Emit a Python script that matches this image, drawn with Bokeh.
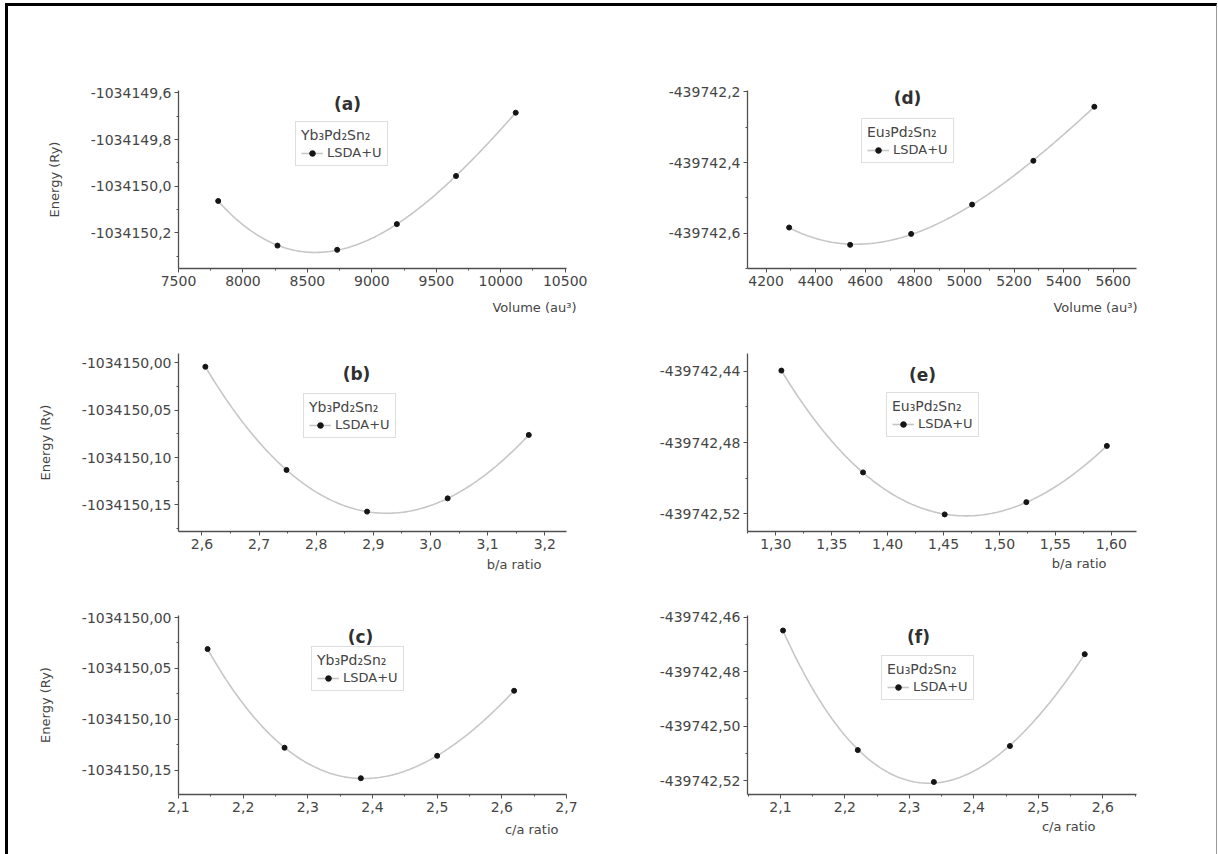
import numpy as np
from bokeh.plotting import figure
from bokeh.layouts import column, row
from bokeh.models import (FixedTicker, CustomJSTickFormatter, Label, Legend, LegendItem,
                          Range1d, InlineStyleSheet, Title)
from bokeh.embed import file_html
from bokeh.resources import INLINE

# ---------------- data ----------------
# (a) Yb3Pd2Sn2, energy vs volume
vol_yb = [7808, 8268, 8731, 9194, 9653, 10116]
e_vol_yb = [-1034150.063, -1034150.254, -1034150.272, -1034150.162, -1034149.956, -1034149.685]
# (b) Yb3Pd2Sn2, energy vs b/a
ba_yb = [2.606, 2.748, 2.889, 3.030, 3.172]
e_ba_yb = [-1034150.004, -1034150.113, -1034150.157, -1034150.143, -1034150.076]
# (c) Yb3Pd2Sn2, energy vs c/a
ca_yb = [2.145, 2.264, 2.382, 2.500, 2.619]
e_ca_yb = [-1034150.031, -1034150.128, -1034150.158, -1034150.136, -1034150.072]
# (d) Eu3Pd2Sn2, energy vs volume
vol_eu = [4293, 4539, 4785, 5031, 5278, 5524]
e_vol_eu = [-439742.584, -439742.633, -439742.602, -439742.519, -439742.395, -439742.242]
# (e) Eu3Pd2Sn2, energy vs b/a
ba_eu = [1.305, 1.378, 1.451, 1.524, 1.596]
e_ba_eu = [-439742.4396, -439742.4968, -439742.5204, -439742.5135, -439742.4819]
# (f) Eu3Pd2Sn2, energy vs c/a
ca_eu = [2.104, 2.220, 2.338, 2.456, 2.572]
e_ca_eu = [-439742.4649, -439742.5088, -439742.5205, -439742.5073, -439742.4736]

# tick values
xt_a = [7500, 8000, 8500, 9000, 9500, 10000, 10500]
yt_a = [-1034150.2, -1034150.0, -1034149.8, -1034149.6]
xt_b = [2.6, 2.7, 2.8, 2.9, 3.0, 3.1, 3.2]
yt_b = [-1034150.15, -1034150.10, -1034150.05, -1034150.00]
xt_c = [2.1, 2.2, 2.3, 2.4, 2.5, 2.6, 2.7]
yt_c = [-1034150.15, -1034150.10, -1034150.05, -1034150.00]
xt_d = [4200, 4400, 4600, 4800, 5000, 5200, 5400, 5600]
yt_d = [-439742.6, -439742.4, -439742.2]
xt_e = [1.30, 1.35, 1.40, 1.45, 1.50, 1.55, 1.60]
yt_e = [-439742.52, -439742.48, -439742.44]
xt_f = [2.1, 2.2, 2.3, 2.4, 2.5, 2.6]
yt_f = [-439742.52, -439742.50, -439742.48, -439742.46]

compound_yb = "Yb\u2083Pd\u2082Sn\u2082"
compound_eu = "Eu\u2083Pd\u2082Sn\u2082"
series_name = "LSDA+U"
y_title = "Energy (Ry)"

# ---------------- styling ----------------
FONT = "DejaVu Sans"
AX = "#505050"
TXT = "#454545"
CURVE = "#c6c6c6"
DOT = "#151515"

ROWS = [(0, 330), (330, 252), (582, 272)]      # (top, height)
COLS = [(0, 610), (610, 608)]                  # (left, width)


def minors(ticks, lo, hi):
    t = np.asarray(ticks, dtype=float)
    step = t[1] - t[0]
    m = np.concatenate([[t[0] - step / 2], t + step / 2])
    return [float(v) for v in m if lo <= v <= hi]


def panel(col, rw, frame, xr, yr, x, y, xt, yt, xd, yd, letter, compound,
          xlabel, xlab_off, xlab_standoff, title_pos, legend_pos, ylabel):
    ox, W = COLS[col]
    oy, H = ROWS[rw]
    fl, ft, fr, fb = frame
    p = figure(width=W, height=H, x_range=Range1d(*xr), y_range=Range1d(*yr),
               output_backend="svg", toolbar_location=None,
               min_border_left=fl - ox, min_border_right=ox + W - fr,
               min_border_top=ft - oy, min_border_bottom=oy + H - fb)
    p.grid.visible = False
    p.outline_line_color = None
    p.background_fill_color = "white"
    p.border_fill_color = "white"

    for ax, ticks, dec, rng in ((p.xaxis[0], xt, xd, xr), (p.yaxis[0], yt, yd, yr)):
        ax.ticker = FixedTicker(ticks=ticks, minor_ticks=minors(ticks, min(rng), max(rng)))
        ax.formatter = CustomJSTickFormatter(code="return tick.toFixed(%d).replace('.', ',');" % dec)
        ax.axis_line_color = AX
        ax.axis_line_width = 1.3
        ax.major_tick_line_color = AX
        ax.minor_tick_line_color = AX
        ax.major_tick_in = 0
        ax.major_tick_out = 4
        ax.minor_tick_in = 0
        ax.minor_tick_out = 2
        ax.major_label_text_font = FONT
        ax.major_label_text_font_size = "14px"
        ax.major_label_text_color = TXT
        ax.major_label_standoff = 3

    if ylabel:
        p.yaxis.axis_label = ylabel
        p.yaxis.axis_label_text_font = FONT
        p.yaxis.axis_label_text_font_size = "13px"
        p.yaxis.axis_label_text_font_style = "normal"
        p.yaxis.axis_label_text_color = TXT
        p.yaxis.axis_label_standoff = 26

    # fitted curve through the points
    fit = np.polynomial.Polynomial.fit(np.asarray(x, float), np.asarray(y, float), 3)
    xs = np.linspace(min(x), max(x), 200)
    line_r = p.line(xs, fit(xs), line_color=CURVE, line_width=1.6)
    dot_r = p.scatter(x, y, size=5, color=DOT)

    leg = Legend(items=[LegendItem(label=series_name, renderers=[line_r, dot_r])],
                 title=compound, location=legend_pos, margin=0, padding=5, spacing=0,
                 glyph_width=22, glyph_height=14, label_standoff=4, title_standoff=2,
                 border_line_color="#bdbdbd", border_line_width=1,
                 background_fill_color="white", background_fill_alpha=1)
    leg.title_text_font = FONT
    leg.title_text_font_size = "14px"
    leg.title_text_font_style = "normal"
    leg.title_text_color = TXT
    leg.label_text_font = FONT
    leg.label_text_font_size = "13px"
    leg.label_text_color = TXT
    p.add_layout(leg)

    p.add_layout(Label(x=title_pos[0], y=title_pos[1], x_units="screen", y_units="screen",
                       text="(%s)" % letter, text_font=FONT, text_font_size="17px",
                       text_font_style="bold", text_color="#303030",
                       text_align="center", text_baseline="middle"))
    p.add_layout(Title(text=xlabel, align="right", vertical_align="top",
                       offset=xlab_off, standoff=xlab_standoff, text_font=FONT,
                       text_font_size="13px", text_font_style="normal",
                       text_color=TXT), "below")
    return p


pa = panel(0, 0, (178, 90, 566, 268), (7500, 10510), (-1034150.352, -1034149.59),
           vol_yb, e_vol_yb, xt_a, yt_a, 0, 1, "a", compound_yb,
           "Volume (au\u00b3)", -10, 22, (169, 165), (117, 102), y_title)
pd_ = panel(1, 0, (747, 90, 1136, 268), (4125, 5694), (-439742.70, -439742.196),
            vol_eu, e_vol_eu, xt_d, yt_d, 0, 1, "d", compound_eu,
            "Volume (au\u00b3)", -1, 22, (160, 171), (114, 105), None)
pb = panel(0, 1, (178, 353, 566, 531), (2.559, 3.238), (-1034150.178, -1034149.99),
           ba_yb, e_ba_yb, xt_b, yt_b, 1, 2, "b", compound_yb,
           "b/a ratio", 25, 10, (178, 158), (125, 93), y_title)
pe = panel(1, 1, (747, 353, 1136, 532), (1.2747, 1.6225), (-439742.530, -439742.430),
           ba_eu, e_ba_eu, xt_e, yt_e, 2, 2, "e", compound_eu,
           "b/a ratio", 30, 8, (175, 157), (139, 94), None)
pc = panel(0, 2, (178, 615, 566, 794), (2.1, 2.7), (-1034150.174, -1034149.998),
           ca_yb, e_ca_yb, xt_c, yt_c, 1, 2, "c", compound_yb,
           "c/a ratio", 8, 14, (182, 158), (133, 103), y_title)
pf = panel(1, 2, (747, 615, 1136, 795), (2.0489, 2.6523), (-439742.5251, -439742.4594),
           ca_eu, e_ca_eu, xt_f, yt_f, 1, 2, "f", compound_eu,
           "c/a ratio", 41, 8, (171, 158), (134, 94), None)

frame_css = InlineStyleSheet(css="""
:host { position: relative; }
:host::after { content: ""; position: absolute; left: 5px; top: 3px; width: 1212px; height: 851px;
  border-left: 3px solid #000; border-top: 3px solid #000; border-right: 1px solid #9a9a9a;
  box-sizing: border-box; pointer-events: none; z-index: 10; }
""")

layout = column(row(pa, pd_, spacing=0), row(pb, pe, spacing=0), row(pc, pf, spacing=0),
                spacing=0, stylesheets=[frame_css])

open("out.html", "w").write(file_html(layout, INLINE))
